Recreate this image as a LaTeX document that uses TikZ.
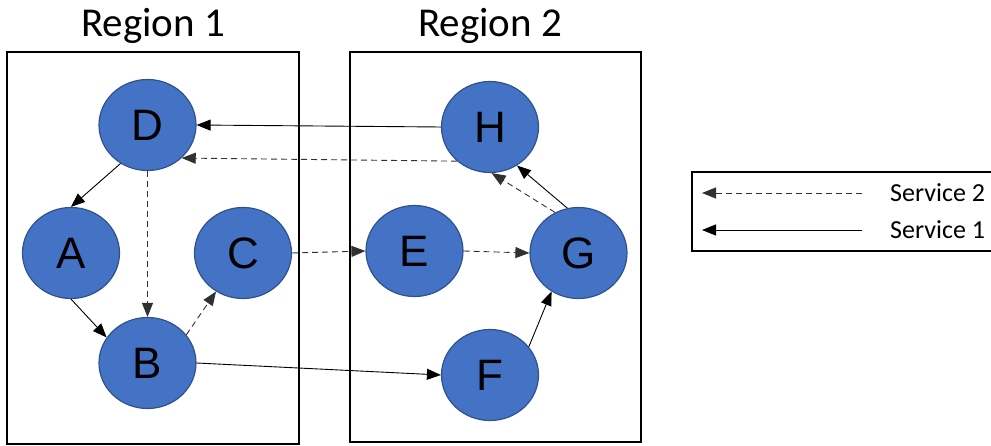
\documentclass[tikz,border=0pt]{standalone}
\usepackage{fontspec}
\setmainfont{Carlito}
\newfontfamily\nodefont{Liberation Sans}
\usetikzlibrary{arrows.meta,shapes.geometric}
\definecolor{nodeblue}{HTML}{4472C4}
\definecolor{nodeedge}{HTML}{2F528F}
\definecolor{dashgray}{HTML}{303030}
\tikzset{
  srv/.style={shape=ellipse, minimum width=97pt, minimum height=91pt, inner sep=0pt,
    fill=nodeblue, draw=nodeedge, line width=1.2pt,
    font=\nodefont\fontsize{44}{44}\selectfont},
  region/.style={draw=black, line width=2pt},
  title/.style={font=\fontsize{41}{41}\selectfont, inner sep=0pt},
  solidarrow/.style={draw=black, line width=0.9pt, -{Triangle[length=14pt,width=11pt]}},
  dasharrow/.style={draw=dashgray, line width=0.9pt, dash pattern=on 6pt off 4pt, -{Triangle[length=14pt,width=11pt]}},
  legendtext/.style={font=\fontsize{26}{26}\selectfont, anchor=west, inner sep=0pt},
}
\begin{document}
\begin{tikzpicture}[x=1pt,y=-1pt]
\useasboundingbox (0,0) rectangle (991,446);
\begin{scope}
\clip (0,0) rectangle (991,446);
% region boxes
\draw[region] (7,52) rectangle (299,444);
\draw[region] (350,52) rectangle (641,442);
\node[title] (t1) at (153,26) {Region 1};
\node[title] (t2) at (490,26) {Region 2};
% nodes
\node[srv] (D) at (147.5,125) {D};
\node[srv] (A) at (71,253) {A};
\node[srv] (C) at (243,253) {C};
\node[srv] (B) at (147.5,363) {B};
\node[srv] (H) at (490,127) {H};
\node[srv] (E) at (414.5,251) {E};
\node[srv] (G) at (578.5,253) {G};
\node[srv] (F) at (490,375) {F};
% edges
\draw[solidarrow] (H.west) -- (D.east);
\draw[dasharrow] (H.226) -- (D.-44);
\draw[solidarrow] (D.235) -- (A.north);
\draw[dasharrow] (D.south) -- (B.north);
\draw[solidarrow] (A.south) -- (B.148);
\draw[dasharrow] (B.36) -- (C.235);
\draw[dasharrow] (C.east) -- (E.west);
\draw[solidarrow] (B.east) -- (F.west);
\draw[dasharrow] (E.east) -- (G.west);
\draw[solidarrow] (F.36) -- (G.235);
\draw[solidarrow] (G.104) -- (H.305);
\draw[dasharrow] (G.120) -- (H.272);
% legend
\draw[line width=2pt] (692,172) rectangle (1000,251);
\coordinate (l2a) at (862,193);
\coordinate (l2b) at (702,193);
\coordinate (l1a) at (862,230);
\coordinate (l1b) at (702,230);
\draw[dasharrow] (l2a) -- (l2b);
\draw[solidarrow] (l1a) -- (l1b);
\node[legendtext] (s2) at (890,193) {Service 2};
\node[legendtext] (s1) at (890,230) {Service 1};
\end{scope}
\end{tikzpicture}
\end{document}
